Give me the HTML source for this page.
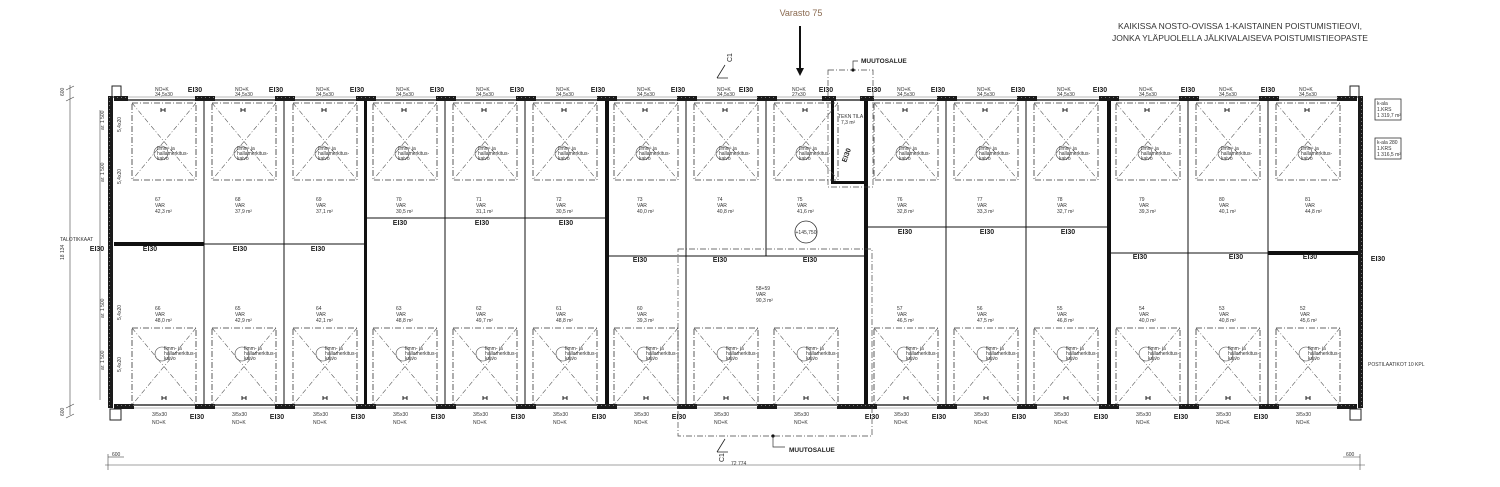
<!DOCTYPE html>
<html><head><meta charset="utf-8"><style>
html,body{margin:0;padding:0;background:#fff;}
svg{display:block;font-family:"Liberation Sans",sans-serif;}
.t{font-size:5px;fill:#333}
.e{font-size:7px;font-weight:bold;fill:#222}
.s{font-size:5px;fill:#333}
</style></head><body>
<svg width="1500" height="487" viewBox="0 0 1500 487" xmlns="http://www.w3.org/2000/svg">
<defs>
<g id="dt">
<rect x="0" y="0" width="64" height="77" fill="none" stroke="#333" stroke-width="0.8" stroke-dasharray="6,2,1,2"/>
<line x1="0" y1="0" x2="64" y2="77" stroke="#555" stroke-width="0.6" stroke-dasharray="5,2,1,2"/>
<line x1="64" y1="0" x2="0" y2="77" stroke="#555" stroke-width="0.6" stroke-dasharray="5,2,1,2"/>
<circle cx="29" cy="50" r="7" fill="none" stroke="#444" stroke-width="0.6"/>
<text x="25" y="47" class="s">Ilmm- ja</text><text x="25" y="52" class="s">hallamerkitus-</text><text x="25" y="57" class="s">kaivo</text>
<path d="M29 5 v4 M29 7 h4 M33 5 v4" stroke="#222" stroke-width="1"/>
</g>
<g id="db">
<rect x="0" y="0" width="64" height="77" fill="none" stroke="#333" stroke-width="0.8" stroke-dasharray="6,2,1,2"/>
<line x1="0" y1="0" x2="64" y2="77" stroke="#555" stroke-width="0.6" stroke-dasharray="5,2,1,2"/>
<line x1="64" y1="0" x2="0" y2="77" stroke="#555" stroke-width="0.6" stroke-dasharray="5,2,1,2"/>
<circle cx="30" cy="26" r="7" fill="none" stroke="#444" stroke-width="0.6"/>
<text x="32" y="22" class="s">Ilmm- ja</text><text x="32" y="27" class="s">hallamerkitus-</text><text x="32" y="32" class="s">kaivo</text>
<path d="M30 68 v4 M30 70 h4 M34 68 v4" stroke="#222" stroke-width="1"/>
</g>
<pattern id="h" width="4" height="4" patternUnits="userSpaceOnUse"><rect width="4" height="4" fill="#1a1a1a"/><rect x="1" y="1" width="1" height="1" fill="#777"/></pattern>
</defs>

<text x="801" y="16" font-size="9" fill="#8a6a50" text-anchor="middle">Varasto 75</text>
<line x1="800" y1="26" x2="800" y2="70" stroke="#111" stroke-width="2"/>
<path d="M796 68 L800 76 L804 68Z" fill="#111"/>
<text x="1240" y="29" font-size="8.5" fill="#333" text-anchor="middle">KAIKISSA NOSTO-OVISSA 1-KAISTAINEN POISTUMISTIEOVI,</text>
<text x="1240" y="41" font-size="8.5" fill="#333" text-anchor="middle">JONKA YLÄPUOLELLA JÄLKIVALAISEVA POISTUMISTIEOPASTE</text>

<rect x="108" y="96" width="5" height="312" fill="url(#h)"/>
<rect x="1358" y="96" width="5" height="312" fill="url(#h)"/>
<line x1="114" y1="100" x2="1357" y2="100" stroke="#333" stroke-width="1.5"/>
<line x1="114" y1="97" x2="1357" y2="97" stroke="#777" stroke-width="0.6"/>
<line x1="114" y1="405" x2="1357" y2="405" stroke="#333" stroke-width="1.5"/>
<line x1="114" y1="408" x2="1357" y2="408" stroke="#777" stroke-width="0.6"/>
<rect x="112" y="86" width="9" height="11" fill="none" stroke="#222" stroke-width="1"/>
<rect x="1350" y="86" width="9" height="11" fill="none" stroke="#222" stroke-width="1"/>
<rect x="110" y="409" width="11" height="11" fill="none" stroke="#222" stroke-width="1"/>
<rect x="1350" y="409" width="11" height="11" fill="none" stroke="#222" stroke-width="1"/>

<g stroke="#111" stroke-width="1">
<line x1="204" y1="100" x2="204" y2="405"/><line x1="284" y1="100" x2="284" y2="405"/>
<line x1="445" y1="100" x2="445" y2="405"/><line x1="525" y1="100" x2="525" y2="405"/>
<line x1="686" y1="100" x2="686" y2="405"/><line x1="766" y1="100" x2="766" y2="256"/>
<line x1="946" y1="100" x2="946" y2="405"/><line x1="1026" y1="100" x2="1026" y2="405"/>
<line x1="1188" y1="100" x2="1188" y2="405"/><line x1="1268" y1="100" x2="1268" y2="405"/>
</g>
<g fill="#111">
<rect x="364" y="100" width="3" height="305"/><rect x="605" y="100" width="4" height="305"/>
<rect x="864" y="100" width="4" height="305"/><rect x="1107" y="100" width="4" height="305"/>
<rect x="831" y="100" width="3" height="84"/><rect x="831" y="181" width="36" height="3"/>
</g>
<rect x="114" y="242" width="90" height="4" fill="#111"/>
<line x1="204" y1="244" x2="365" y2="244" stroke="#111" stroke-width="1"/>
<line x1="365" y1="218" x2="606" y2="218" stroke="#111" stroke-width="1"/>
<line x1="606" y1="256" x2="866" y2="256" stroke="#111" stroke-width="1"/>
<line x1="866" y1="227" x2="1108" y2="227" stroke="#111" stroke-width="1"/>
<line x1="1108" y1="253" x2="1268" y2="253" stroke="#111" stroke-width="1"/>
<rect x="1268" y="251" width="90" height="4" fill="#111"/>

<g fill="url(#h)">
<rect x="114" y="96" width="14" height="5"/><rect x="195" y="96" width="20" height="5"/><rect x="275" y="96" width="20" height="5"/><rect x="356" y="96" width="20" height="5"/><rect x="436" y="96" width="20" height="5"/><rect x="516" y="96" width="20" height="5"/><rect x="597" y="96" width="20" height="5"/><rect x="677" y="96" width="20" height="5"/><rect x="757" y="96" width="20" height="5"/><rect x="822" y="96" width="14" height="5"/><rect x="860" y="96" width="14" height="5"/><rect x="937" y="96" width="20" height="5"/><rect x="1017" y="96" width="20" height="5"/><rect x="1099" y="96" width="20" height="5"/><rect x="1179" y="96" width="20" height="5"/><rect x="1259" y="96" width="20" height="5"/><rect x="1337" y="96" width="20" height="5"/>
<rect x="114" y="404" width="20" height="5"/><rect x="195" y="404" width="20" height="5"/><rect x="275" y="404" width="20" height="5"/><rect x="356" y="404" width="20" height="5"/><rect x="436" y="404" width="20" height="5"/><rect x="516" y="404" width="20" height="5"/><rect x="597" y="404" width="20" height="5"/><rect x="677" y="404" width="20" height="5"/><rect x="757" y="404" width="20" height="5"/><rect x="837" y="404" width="40" height="5"/><rect x="937" y="404" width="20" height="5"/><rect x="1017" y="404" width="20" height="5"/><rect x="1099" y="404" width="20" height="5"/><rect x="1179" y="404" width="20" height="5"/><rect x="1259" y="404" width="20" height="5"/><rect x="1337" y="404" width="20" height="5"/>
</g>

<use href="#dt" x="132" y="103"/><use href="#dt" x="212" y="103"/><use href="#dt" x="293" y="103"/><use href="#dt" x="373" y="103"/><use href="#dt" x="453" y="103"/><use href="#dt" x="533" y="103"/><use href="#dt" x="614" y="103"/><use href="#dt" x="694" y="103"/><use href="#dt" x="774" y="103"/><use href="#dt" x="874" y="103"/><use href="#dt" x="954" y="103"/><use href="#dt" x="1034" y="103"/><use href="#dt" x="1116" y="103"/><use href="#dt" x="1196" y="103"/><use href="#dt" x="1276" y="103"/>
<use href="#db" x="132" y="328"/><use href="#db" x="212" y="328"/><use href="#db" x="293" y="328"/><use href="#db" x="373" y="328"/><use href="#db" x="453" y="328"/><use href="#db" x="533" y="328"/><use href="#db" x="614" y="328"/><use href="#db" x="694" y="328"/><use href="#db" x="774" y="328"/><use href="#db" x="874" y="328"/><use href="#db" x="954" y="328"/><use href="#db" x="1034" y="328"/><use href="#db" x="1116" y="328"/><use href="#db" x="1196" y="328"/><use href="#db" x="1276" y="328"/>

<g class="s">
<text x="155" y="91">NO+K</text><text x="155" y="96">34,5x30</text><text x="235" y="91">NO+K</text><text x="235" y="96">34,5x30</text><text x="316" y="91">NO+K</text><text x="316" y="96">34,5x30</text><text x="396" y="91">NO+K</text><text x="396" y="96">34,5x30</text><text x="476" y="91">NO+K</text><text x="476" y="96">34,5x30</text><text x="556" y="91">NO+K</text><text x="556" y="96">34,5x30</text><text x="637" y="91">NO+K</text><text x="637" y="96">34,5x30</text><text x="717" y="91">NO+K</text><text x="717" y="96">34,5x30</text><text x="792" y="91">NO+K</text><text x="792" y="96">27x30</text><text x="897" y="91">NO+K</text><text x="897" y="96">34,5x30</text><text x="977" y="91">NO+K</text><text x="977" y="96">34,5x30</text><text x="1057" y="91">NO+K</text><text x="1057" y="96">34,5x30</text><text x="1139" y="91">NO+K</text><text x="1139" y="96">34,5x30</text><text x="1219" y="91">NO+K</text><text x="1219" y="96">34,5x30</text><text x="1299" y="91">NO+K</text><text x="1299" y="96">34,5x30</text>
</g>
<g class="s">
<text x="152" y="416">3/5x30</text><text x="152" y="424">NO+K</text><text x="232" y="416">3/5x30</text><text x="232" y="424">NO+K</text><text x="313" y="416">3/5x30</text><text x="313" y="424">NO+K</text><text x="393" y="416">3/5x30</text><text x="393" y="424">NO+K</text><text x="473" y="416">3/5x30</text><text x="473" y="424">NO+K</text><text x="553" y="416">3/5x30</text><text x="553" y="424">NO+K</text><text x="634" y="416">3/5x30</text><text x="634" y="424">NO+K</text><text x="714" y="416">3/5x30</text><text x="714" y="424">NO+K</text><text x="794" y="416">3/5x30</text><text x="794" y="424">NO+K</text><text x="894" y="416">3/5x30</text><text x="894" y="424">NO+K</text><text x="974" y="416">3/5x30</text><text x="974" y="424">NO+K</text><text x="1054" y="416">3/5x30</text><text x="1054" y="424">NO+K</text><text x="1136" y="416">3/5x30</text><text x="1136" y="424">NO+K</text><text x="1216" y="416">3/5x30</text><text x="1216" y="424">NO+K</text><text x="1296" y="416">3/5x30</text><text x="1296" y="424">NO+K</text>
</g>

<g class="e" text-anchor="middle">
<text x="195" y="92">EI30</text><text x="276" y="92">EI30</text><text x="357" y="92">EI30</text><text x="437" y="92">EI30</text><text x="517" y="92">EI30</text><text x="598" y="92">EI30</text><text x="678" y="92">EI30</text><text x="746" y="92">EI30</text><text x="826" y="92">EI30</text><text x="874" y="92">EI30</text><text x="938" y="92">EI30</text><text x="1018" y="92">EI30</text><text x="1100" y="92">EI30</text><text x="1188" y="92">EI30</text><text x="1268" y="92">EI30</text>
<text x="150" y="251">EI30</text><text x="240" y="251">EI30</text><text x="318" y="251">EI30</text><text x="97" y="251">EI30</text>
<text x="400" y="225">EI30</text><text x="482" y="225">EI30</text><text x="566" y="225">EI30</text>
<text x="640" y="262">EI30</text><text x="720" y="262">EI30</text><text x="810" y="262">EI30</text>
<text x="905" y="234">EI30</text><text x="987" y="234">EI30</text><text x="1068" y="234">EI30</text>
<text x="1140" y="259">EI30</text><text x="1236" y="259">EI30</text><text x="1310" y="259">EI30</text><text x="1378" y="261">EI30</text>
<text x="197" y="419">EI30</text><text x="277" y="419">EI30</text><text x="358" y="419">EI30</text><text x="438" y="419">EI30</text><text x="518" y="419">EI30</text><text x="599" y="419">EI30</text><text x="679" y="419">EI30</text><text x="872" y="419">EI30</text><text x="939" y="419">EI30</text><text x="1019" y="419">EI30</text><text x="1101" y="419">EI30</text><text x="1181" y="419">EI30</text><text x="1261" y="419">EI30</text>
</g>

<g class="t">
<text x="155" y="201">67</text><text x="155" y="207">VAR</text><text x="155" y="213">42,3 m²</text>
<text x="235" y="201">68</text><text x="235" y="207">VAR</text><text x="235" y="213">37,9 m²</text>
<text x="316" y="201">69</text><text x="316" y="207">VAR</text><text x="316" y="213">37,1 m²</text>
<text x="396" y="201">70</text><text x="396" y="207">VAR</text><text x="396" y="213">30,5 m²</text>
<text x="476" y="201">71</text><text x="476" y="207">VAR</text><text x="476" y="213">31,1 m²</text>
<text x="556" y="201">72</text><text x="556" y="207">VAR</text><text x="556" y="213">30,5 m²</text>
<text x="637" y="201">73</text><text x="637" y="207">VAR</text><text x="637" y="213">40,0 m²</text>
<text x="717" y="201">74</text><text x="717" y="207">VAR</text><text x="717" y="213">40,8 m²</text>
<text x="797" y="201">75</text><text x="797" y="207">VAR</text><text x="797" y="213">41,6 m²</text>
<text x="897" y="201">76</text><text x="897" y="207">VAR</text><text x="897" y="213">32,8 m²</text>
<text x="977" y="201">77</text><text x="977" y="207">VAR</text><text x="977" y="213">33,3 m²</text>
<text x="1057" y="201">78</text><text x="1057" y="207">VAR</text><text x="1057" y="213">32,7 m²</text>
<text x="1139" y="201">79</text><text x="1139" y="207">VAR</text><text x="1139" y="213">39,3 m²</text>
<text x="1219" y="201">80</text><text x="1219" y="207">VAR</text><text x="1219" y="213">40,1 m²</text>
<text x="1305" y="201">81</text><text x="1305" y="207">VAR</text><text x="1305" y="213">44,8 m²</text>
<text x="155" y="310">66</text><text x="155" y="316">VAR</text><text x="155" y="322">48,0 m²</text>
<text x="235" y="310">65</text><text x="235" y="316">VAR</text><text x="235" y="322">42,9 m²</text>
<text x="316" y="310">64</text><text x="316" y="316">VAR</text><text x="316" y="322">42,1 m²</text>
<text x="396" y="310">63</text><text x="396" y="316">VAR</text><text x="396" y="322">48,8 m²</text>
<text x="476" y="310">62</text><text x="476" y="316">VAR</text><text x="476" y="322">49,7 m²</text>
<text x="556" y="310">61</text><text x="556" y="316">VAR</text><text x="556" y="322">48,8 m²</text>
<text x="637" y="310">60</text><text x="637" y="316">VAR</text><text x="637" y="322">39,3 m²</text>
<text x="756" y="290">58+59</text><text x="756" y="296">VAR</text><text x="756" y="302">90,3 m²</text>
<text x="897" y="310">57</text><text x="897" y="316">VAR</text><text x="897" y="322">46,5 m²</text>
<text x="977" y="310">56</text><text x="977" y="316">VAR</text><text x="977" y="322">47,5 m²</text>
<text x="1057" y="310">55</text><text x="1057" y="316">VAR</text><text x="1057" y="322">46,8 m²</text>
<text x="1139" y="310">54</text><text x="1139" y="316">VAR</text><text x="1139" y="322">40,0 m²</text>
<text x="1219" y="310">53</text><text x="1219" y="316">VAR</text><text x="1219" y="322">40,8 m²</text>
<text x="1300" y="310">52</text><text x="1300" y="316">VAR</text><text x="1300" y="322">45,6 m²</text>
<text x="838" y="118">TEKN TILA</text><text x="841" y="124">7,3 m²</text>
<text x="60" y="241">TALOTIKKAAT</text>
<text x="1368" y="366">POSTILAATIKOT 10 KPL</text>
</g>
<circle cx="806" cy="232" r="11" fill="none" stroke="#333" stroke-width="0.8"/>
<text x="806" y="234" class="t" text-anchor="middle">+145,750</text>

<g fill="none" stroke="#444" stroke-width="0.7" stroke-dasharray="6,2,1,2">
<rect x="678" y="249" width="194" height="187"/>
<rect x="828" y="70" width="45" height="117"/>
</g>
<circle cx="773" cy="436" r="1.6" fill="#111"/><path d="M773 436 v11 h12" fill="none" stroke="#333" stroke-width="0.7"/>
<text x="789" y="452" font-size="6.5" font-weight="bold" fill="#222">MUUTOSALUE</text>
<circle cx="853" cy="70" r="1.6" fill="#111"/><path d="M853 70 v-9 h5" fill="none" stroke="#333" stroke-width="0.7"/>
<text x="861" y="63" font-size="6.5" font-weight="bold" fill="#222">MUUTOSALUE</text>
<text x="840" y="160" font-size="7" font-weight="bold" fill="#222" transform="rotate(-70 845 157)">EI30</text>

<path d="M717 78 L725 65 M717 78 H728" stroke="#222" stroke-width="0.8" fill="none"/>
<text x="730" y="64" font-size="7" fill="#222" transform="rotate(-90 730 62)">C1</text>
<path d="M717 452 L725 439 M717 452 H728" stroke="#222" stroke-width="0.8" fill="none"/>
<text x="724" y="462" font-size="7" fill="#222" transform="rotate(-90 724 462)">C1</text>

<rect x="1375" y="99" width="26" height="21" fill="none" stroke="#333" stroke-width="0.8"/>
<text x="1377" y="105" class="s">k-ala</text><text x="1377" y="111" class="s">1.KRS</text><text x="1377" y="117" class="s">1 319,7 m²</text>
<rect x="1375" y="138" width="26" height="21" fill="none" stroke="#333" stroke-width="0.8"/>
<text x="1377" y="144" class="s">k-ala 280</text><text x="1377" y="150" class="s">1.KRS</text><text x="1377" y="156" class="s">1 316,5 m²</text>

<g stroke="#444" stroke-width="0.6">
<line x1="70" y1="85" x2="70" y2="415"/>
<line x1="66" y1="90" x2="74" y2="86"/><line x1="66" y1="101" x2="74" y2="97"/><line x1="66" y1="408" x2="74" y2="404"/><line x1="66" y1="418" x2="74" y2="414"/>
<line x1="105" y1="465" x2="1365" y2="465"/>
<line x1="108" y1="454" x2="108" y2="470"/><line x1="1360" y1="454" x2="1360" y2="470"/>
<line x1="108" y1="457" x2="124" y2="457"/><line x1="1343" y1="457" x2="1360" y2="457"/>
<line x1="100" y1="110" x2="100" y2="400"/>
</g>
<g class="s">
<text x="64" y="260" transform="rotate(-90 64 260)">18 134</text>
<text x="64" y="96" transform="rotate(-90 64 96)">600</text>
<text x="64" y="416" transform="rotate(-90 64 416)">600</text>
<text x="112" y="456">600</text><text x="1346" y="456">600</text>
<text x="731" y="465">72 774</text>
<text x="104" y="130" transform="rotate(-90 104 130)">ar. 1 500</text>
<text x="104" y="182" transform="rotate(-90 104 182)">ar. 1 500</text>
<text x="104" y="318" transform="rotate(-90 104 318)">ar. 1 500</text>
<text x="104" y="370" transform="rotate(-90 104 370)">ar. 1 500</text>
<text x="121" y="132" transform="rotate(-90 121 132)">5,4x20</text>
<text x="121" y="184" transform="rotate(-90 121 184)">5,4x20</text>
<text x="121" y="320" transform="rotate(-90 121 320)">5,4x20</text>
<text x="121" y="372" transform="rotate(-90 121 372)">5,4x20</text>
</g>
</svg>
</body></html>
